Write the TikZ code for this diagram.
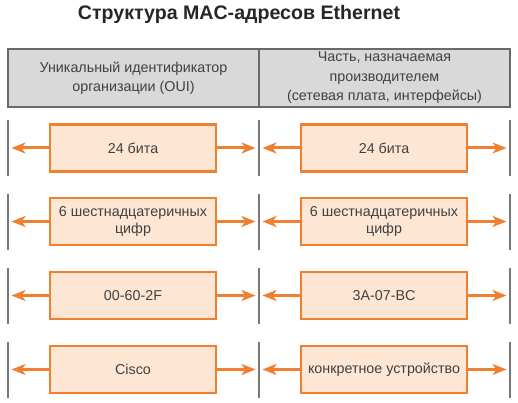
\documentclass[tikz,border=0pt]{standalone}
\usepackage{fontspec}
\setmainfont{Liberation Sans}
\usetikzlibrary{arrows.meta}
\definecolor{org}{RGB}{240,128,48}
\definecolor{orgfill}{RGB}{253,230,212}
\definecolor{hdrfill}{RGB}{217,217,217}
\definecolor{hdrline}{RGB}{105,105,105}
\definecolor{txt}{RGB}{64,64,64}
\definecolor{barc}{RGB}{120,120,120}
\begin{document}
\begin{tikzpicture}[x=1pt,y=-1pt,
 valbox/.style={draw=org, fill=orgfill, line width=2.2pt, minimum width=166pt, minimum height=47pt, inner sep=0pt, text=txt, font=\fontsize{14.3}{17}\selectfont, align=center},
 hdrcell/.style={draw=hdrline, fill=hdrfill, line width=1.8pt, minimum width=251pt, minimum height=58pt, inner sep=0pt, text=txt, font=\fontsize{14.3}{19.5}\selectfont, align=center},
 barline/.style={draw=barc, line width=1.8pt},
 spanarrow/.style={draw=org, line width=3pt, -{Stealth[length=14pt,width=11pt,inset=4pt]}, shorten >=3.5pt}]
\useasboundingbox (0,0) rectangle (518,403);
\node[text=black!85, font=\bfseries\fontsize{19.6}{22}\selectfont] (title) at (239,14) {Структура MAC-адресов Ethernet};
\node[hdrcell] (hL) at (133.5,78) {Уникальный идентификатор\\организации (OUI)};
\node[hdrcell] (hR) at (384.5,78) {Часть, назначаемая\\производителем\\(сетевая плата, интерфейсы)};
\foreach \i/\cy/\lt/\rt in {1/148/{24 бита}/{24 бита},
  2/221.5/{6 шестнадцатеричных\\цифр}/{6 шестнадцатеричных\\цифр},
  3/295.5/{00-60-2F}/{3A-07-BC},
  4/369.5/{Cisco}/{конкретное устройство}}{
  \coordinate (a\i) at (8,\cy);
  \coordinate (b\i) at (259,\cy);
  \coordinate (c\i) at (510,\cy);
  \draw[barline] ([yshift=-28pt]a\i) -- ([yshift=28pt]a\i);
  \draw[barline] ([yshift=-28pt]b\i) -- ([yshift=28pt]b\i);
  \draw[barline] ([yshift=-28pt]c\i) -- ([yshift=28pt]c\i);
  \node[valbox] (L\i) at (133,\cy) {\lt};
  \node[valbox] (R\i) at (384,\cy) {\rt};
  \draw[spanarrow] (L\i.west) -- (a\i);
  \draw[spanarrow] (L\i.east) -- (b\i);
  \draw[spanarrow] (R\i.west) -- (b\i);
  \draw[spanarrow] (R\i.east) -- (c\i);
}
\end{tikzpicture}
\end{document}
